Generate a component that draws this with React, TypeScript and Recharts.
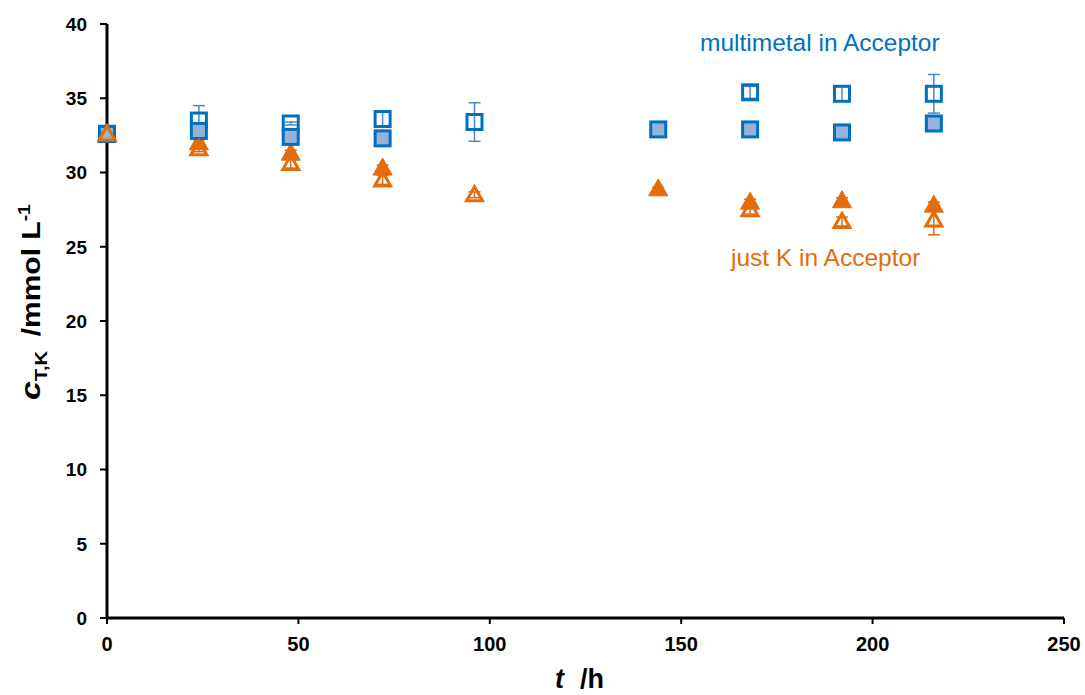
import React from "react";
import { ScatterChart, Scatter, XAxis, YAxis, ErrorBar } from "recharts";

// sampling times (h)
const times = [0, 24, 48, 72, 96, 144, 168, 192, 216];

// multimetal in acceptor (open squares) and the filled squares
const openSquare = [32.6, 33.5, 33.3, 33.6, 33.4, null, 35.4, 35.3, 35.3];
const openSquareErr = [0.1, 1.0, 0.1, 0.5, 1.3, null, 0.4, 0.5, 1.3];
const filledSquare = [32.6, 32.8, 32.4, 32.3, null, 32.9, 32.9, 32.7, 33.3];
const filledSquareErr = [0.1, 0.2, 0.1, 0.2, null, 0.1, 0.2, 0.1, 0.3];

// just K in acceptor (open triangles) and the filled triangles
const openTri = [32.6, 31.6, 30.6, 29.5, 28.5, null, 27.5, 26.7, 26.8];
const openTriErr = [0.1, 0.2, 0.3, 0.3, 0.2, null, 0.3, 0.3, 1.0];
const filledTri = [32.5, 32.0, 31.3, 30.3, null, 28.9, 28.0, 28.1, 27.8];
const filledTriErr = [0.1, 0.2, 0.2, 0.2, null, 0.1, 0.2, 0.2, 0.2];

const xTicks = [0, 50, 100, 150, 200, 250];
const yTicks = [0, 5, 10, 15, 20, 25, 30, 35, 40];

const BLUE = "#0070C0";
const LIGHT_BLUE = "#95B3D7";
const ERR_BLUE = "#4F86C6";
const ORANGE = "#E46C0A";

function toPoints(vals: (number | null)[], errs: (number | null)[]) {
  const out: { t: number; c: number; err: number }[] = [];
  vals.forEach((v, i) => {
    if (v !== null) out.push({ t: times[i], c: v, err: errs[i] ?? 0 });
  });
  return out;
}

const openSquareData = toPoints(openSquare, openSquareErr);
const filledSquareData = toPoints(filledSquare, filledSquareErr);
const openTriData = toPoints(openTri, openTriErr);
const filledTriData = toPoints(filledTri, filledTriErr);

const OpenSquare = (p: any) => (
  <rect x={p.cx - 7.5} y={p.cy - 7.5} width={15} height={15} fill="none" stroke={BLUE} strokeWidth={3} />
);
const FilledSquare = (p: any) => (
  <rect x={p.cx - 7.5} y={p.cy - 7.5} width={15} height={15} fill={LIGHT_BLUE} stroke={BLUE} strokeWidth={3} />
);
const FilledTri = (p: any) => (
  <polygon
    points={`${p.cx},${p.cy - 10} ${p.cx + 9.5},${p.cy + 7} ${p.cx - 9.5},${p.cy + 7}`}
    fill={ORANGE}
    stroke={ORANGE}
    strokeWidth={1}
  />
);
const OpenTri = (p: any) => (
  <polygon
    points={`${p.cx},${p.cy - 8} ${p.cx + 8},${p.cy + 6} ${p.cx - 8},${p.cy + 6}`}
    fill="none"
    stroke={ORANGE}
    strokeWidth={3}
    strokeLinejoin="miter"
  />
);

const FONT = "'Liberation Sans', Arial, sans-serif";

const XTick = (p: any) => (
  <text x={p.x} y={p.y + 21} textAnchor="middle" fontFamily={FONT} fontWeight="bold" fontSize={20} fill="#000">
    {p.payload.value}
  </text>
);

const YTick = (p: any) => (
  <text x={p.x} y={p.y} dy="0.36em" textAnchor="end" fontFamily={FONT} fontWeight="bold" fontSize={19} fill="#000">
    {p.payload.value}
  </text>
);

export default function App() {
  return (
    <div style={{ position: "absolute", left: 0, top: 0, width: 1085, height: 695, background: "#fff" }}>
      <ScatterChart width={1085} height={695} margin={{ top: 24, right: 21, bottom: 0, left: 0 }}>
        <XAxis
          type="number"
          dataKey="t"
          domain={[0, 250]}
          ticks={xTicks}
          height={77}
          tickSize={6}
          tickMargin={6}
          tick={<XTick />}
          axisLine={{ stroke: "#000", strokeWidth: 3 }}
          tickLine={{ stroke: "#000", strokeWidth: 2 }}
        />
        <YAxis
          type="number"
          dataKey="c"
          domain={[0, 40]}
          ticks={yTicks}
          width={107}
          tickSize={7}
          tickMargin={13}
          tick={<YTick />}
          axisLine={{ stroke: "#000", strokeWidth: 3 }}
          tickLine={{ stroke: "#000", strokeWidth: 2 }}
        />
        <Scatter data={filledTriData} shape={FilledTri} isAnimationActive={false}>
          <ErrorBar dataKey="err" direction="y" width={6} stroke={ORANGE} strokeWidth={1.5} />
        </Scatter>
        <Scatter data={openSquareData} shape={OpenSquare} isAnimationActive={false}>
          <ErrorBar dataKey="err" direction="y" width={6} stroke={ERR_BLUE} strokeWidth={1.5} />
        </Scatter>
        <Scatter data={filledSquareData} shape={FilledSquare} isAnimationActive={false}>
          <ErrorBar dataKey="err" direction="y" width={6} stroke={ERR_BLUE} strokeWidth={1.5} />
        </Scatter>
        <Scatter data={openTriData} shape={OpenTri} isAnimationActive={false}>
          <ErrorBar dataKey="err" direction="y" width={6} stroke={ORANGE} strokeWidth={1.5} />
        </Scatter>
      </ScatterChart>

      <svg width={1085} height={695} style={{ position: "absolute", left: 0, top: 0, pointerEvents: "none" }}>
        <text x={700} y={51} fontFamily={FONT} fontSize={24.5} fill={BLUE}>
          multimetal in Acceptor
        </text>
        <text x={731} y={266} fontFamily={FONT} fontSize={24.5} fill={ORANGE}>
          just K in Acceptor
        </text>
        <text x={555} y={688} fontFamily={FONT} fontWeight="bold" fontSize={27} fill="#000">
          <tspan fontStyle="italic">t</tspan>
          <tspan x={580}>/h</tspan>
        </text>
        <text
          transform="translate(40,400) rotate(-90) scale(1.2,1)"
          fontFamily={FONT}
          fontWeight="bold"
          fontSize={25}
          fill="#000"
        >
          <tspan fontStyle="italic" fontSize={28}>c</tspan>
          <tspan fontSize={17} dy={7}>T,K</tspan>
          <tspan dy={-7} dx={12}>/mmol L</tspan>
          <tspan fontSize={16} dy={-10}>-1</tspan>
        </text>
      </svg>
    </div>
  );
}
